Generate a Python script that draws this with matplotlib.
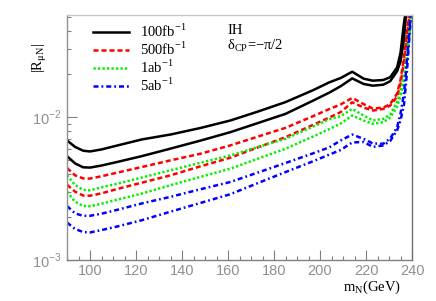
import numpy as np
import matplotlib
matplotlib.use("Agg")
from matplotlib import pyplot as plt
from matplotlib.ticker import MultipleLocator, LogLocator, NullFormatter

# heavy neutrino mass (GeV)
m_N = [90, 93.5, 97, 100, 105, 112, 122.5, 135, 148, 161, 173, 185, 197, 204,
       209, 214, 219, 223, 227.5, 230.5, 233.5, 235, 236.5, 237.5, 238.5, 239.5, 240]

# |R_muN| bands, two curves per luminosity
r100_up = [0.00688, 0.00620, 0.00583, 0.00576, 0.00595, 0.00635, 0.00699, 0.00757, 0.00841,
           0.00949, 0.01096, 0.01277, 0.01548, 0.01755, 0.01884, 0.02084, 0.01862, 0.01804,
           0.01824, 0.01908, 0.02232, 0.0283, 0.0458, 0.058, 0.08, 0.11, 0.13]
r100_lo = [0.00534, 0.00475, 0.00446, 0.00444, 0.00459, 0.00487, 0.00534, 0.00603, 0.00686,
           0.00786, 0.00911, 0.01056, 0.01308, 0.01487, 0.01651, 0.01872, 0.0171, 0.01664,
           0.01691, 0.01789, 0.0210, 0.02457, 0.03485, 0.055, 0.075, 0.10, 0.12]
r500_up = [0.00441, 0.00392, 0.00373, 0.00372, 0.00386, 0.00410, 0.00448, 0.00499, 0.00555,
           0.00635, 0.00732, 0.00843, 0.01018, 0.01141, 0.0123, 0.01366, 0.01236, 0.0115,
           0.01169, 0.01236, 0.01463, 0.01832, 0.02623, 0.0354, 0.0504, 0.075, 0.09]
r500_lo = [0.00337, 0.00301, 0.00283, 0.00282, 0.00293, 0.00315, 0.00348, 0.00392, 0.00453,
           0.00521, 0.00615, 0.00725, 0.00885, 0.00995, 0.01087, 0.01273, 0.01169, 0.01114,
           0.01144, 0.01207, 0.01395, 0.01719, 0.02408, 0.03216, 0.0458, 0.07, 0.085]
r1ab_up = [0.00392, 0.00335, 0.00310, 0.00308, 0.00323, 0.00343, 0.00378, 0.00425, 0.00480,
           0.00540, 0.00619, 0.00707, 0.00861, 0.00967, 0.01019, 0.01144, 0.01028, 0.00949,
           0.00975, 0.01044, 0.01287, 0.01487, 0.01986, 0.02487, 0.0354, 0.0538, 0.065]
r1ab_lo = [0.00300, 0.00256, 0.00239, 0.00238, 0.00248, 0.00265, 0.00292, 0.00334, 0.00382,
           0.00436, 0.00513, 0.00602, 0.00733, 0.00826, 0.00904, 0.01028, 0.00949, 0.00899,
           0.00923, 0.00995, 0.01188, 0.01395, 0.01832, 0.02294, 0.03164, 0.0513, 0.06]
r5ab_up = [0.00239, 0.00212, 0.00204, 0.00204, 0.00211, 0.00225, 0.00249, 0.00277, 0.00313,
           0.00352, 0.00410, 0.00478, 0.00559, 0.00615, 0.00688, 0.00757, 0.00705, 0.00655,
           0.00652, 0.0071, 0.00848, 0.01061, 0.01463, 0.02187, 0.0354, 0.0555, 0.065]
r5ab_lo = [0.00183, 0.00165, 0.00157, 0.00156, 0.00162, 0.00172, 0.00190, 0.00218, 0.00251,
           0.00289, 0.00346, 0.00413, 0.00492, 0.00547, 0.0059, 0.00666, 0.00671, 0.0062,
           0.00635, 0.00682, 0.00808, 0.00949, 0.01227, 0.01804, 0.0302, 0.0504, 0.06]

labels = ["100fb$^{\\mathregular{-1}}$", "500fb$^{\\mathregular{-1}}$",
          "1ab$^{\\mathregular{-1}}$", "5ab$^{\\mathregular{-1}}$"]
series = [(r100_up, r100_lo), (r500_up, r500_lo), (r1ab_up, r1ab_lo), (r5ab_up, r5ab_lo)]
colors = ["black", "#ff0000", "#00f000", "#0000ff"]
styles = ["-", (0, (2.0, 1.2)), (0, (0.9, 0.9)), (0, (2.0, 1.2, 0.7, 1.2))]

serif = "Liberation Serif"
sans = "Liberation Sans"
tick_gray = "#909090"

fig = plt.figure(figsize=(4.36, 3.01), dpi=100)
ax = fig.add_axes([0.1537, 0.1362, 0.7913, 0.8138])

for (up, lo), c, ls, lab in zip(series, colors, styles, labels):
    ax.plot(m_N, up, color=c, ls=ls, lw=1.8, label=lab)
    ax.plot(m_N, lo, color=c, ls=ls, lw=1.8)

ax.set_yscale("log")
ax.set_xlim(90, 240)
ax.set_ylim(1e-3, 0.052)

ax.set_xticks(np.arange(100, 241, 20))
ax.xaxis.set_minor_locator(MultipleLocator(5))
ax.set_yticks([1e-3, 1e-2], labels=["10$^{\\mathregular{-3}}$", "10$^{\\mathregular{-2}}$"])
ax.yaxis.set_minor_locator(LogLocator(base=10, subs=np.arange(2, 10)))
ax.yaxis.set_minor_formatter(NullFormatter())

ax.tick_params(which="both", direction="in", color="#808080", width=0.8,
               top=False, right=False)
ax.tick_params(which="major", length=7)
ax.tick_params(which="minor", length=3.2)
ax.tick_params(axis="x", which="major", pad=3)
ax.tick_params(axis="y", which="major", pad=4)
for lab in ax.get_xticklabels() + ax.get_yticklabels():
    lab.set_fontfamily(sans)
    lab.set_fontsize(10.5)
    lab.set_color(tick_gray)

ax.spines["top"].set_color("#c8c8c8")
ax.spines["left"].set_color("#909090")
ax.spines["bottom"].set_color("#808080")
ax.spines["right"].set_color("#707070")
for s in ax.spines.values():
    s.set_linewidth(1.0)

leg = ax.legend(loc="upper left", bbox_to_anchor=(0.045, 1.012), frameon=False,
                prop={"family": serif, "size": 10.5}, handlelength=2.5,
                handletextpad=0.75, labelspacing=0.05, borderaxespad=0.3)

ax.text(0.465, 0.935, "IH", transform=ax.transAxes, family=serif, fontsize=10.5,
        va="center", ha="left")
ax.text(0.465, 0.875, "δ$_{\\mathregular{CP}}$=−π/2", transform=ax.transAxes,
        family=serif, fontsize=10.5, va="center", ha="left")

fig.text(40 / 436, 1 - 58 / 301, "|R$_{\\mathregular{μN}}$|", rotation=90,
         family=serif, fontsize=10.5, ha="center", va="center")
fig.text(372 / 436, 1 - 287 / 301, "m$_{\\mathregular{N}}$(GeV)",
         family=serif, fontsize=10.5, ha="center", va="center")

fig.savefig("out.png", dpi=100)
